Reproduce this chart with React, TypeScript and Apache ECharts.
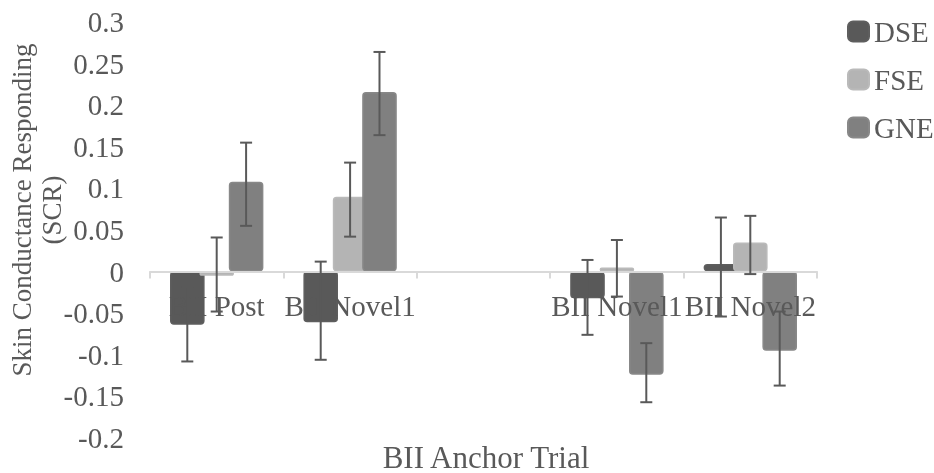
import React, { useEffect, useRef } from "react";
import * as echarts from "echarts";

const categories = ["BII Post", "BII Novel1", "", "BII Novel1", "BII Novel2"];
const seriesNames = ["DSE", "FSE", "GNE"];
const dseValues = [-0.064, -0.061, null, -0.032, 0.009];
const fseValues = [-0.005, 0.09, null, 0.005, 0.035];
const gneValues = [0.108, 0.216, null, -0.124, -0.095];
const dseErrHigh = [-0.0185, 0.012, null, 0.014, 0.065];
const dseErrLow = [-0.108, -0.106, null, -0.076, -0.054];
const fseErrHigh = [0.041, 0.131, null, 0.038, 0.067];
const fseErrLow = [-0.048, 0.042, null, -0.03, -0.003];
const gneErrHigh = [0.155, 0.264, null, -0.086, -0.048];
const gneErrLow = [0.055, 0.164, null, -0.157, -0.137];
const yTicks = [-0.2, 0.3, 0.05];

const FONT = "'Liberation Serif', 'Times New Roman', serif";
const TEXT = "#595959";
const colors = ["#595959", "#b4b4b4", "#808080"];
const borders = ["#5e5e5e", "#bababa", "#888888"];

const CAT_GAP = 0.3;
const BAR_GAP = -0.15;

const GRID_TOP = 22;
const GRID_BOTTOM = 35;
const CHART_H = 473;

export default function App() {
  const ref = useRef<HTMLDivElement>(null);
  useEffect(() => {
    const chart = echarts.init(ref.current!, undefined, { renderer: "svg" });
    const values = [dseValues, fseValues, gneValues];
    const highs = [dseErrHigh, fseErrHigh, gneErrHigh];
    const lows = [dseErrLow, fseErrLow, gneErrLow];

    // distance from the zero line to the grid bottom, so labels sit under the zero line
    const plotH = CHART_H - GRID_TOP - GRID_BOTTOM;
    const zeroToBottom = (plotH * (0 - yTicks[0])) / (yTicks[1] - yTicks[0]);

    const barSeries = seriesNames.map((name, i) => ({
      name,
      type: "bar",
      data: values[i].map((v) => (v === null ? "-" : v)),
      barGap: `${BAR_GAP * 100}%`,
      barCategoryGap: `${CAT_GAP * 100}%`,
      itemStyle: {
        color: colors[i],
        borderColor: borders[i],
        borderWidth: 1.5,
        borderRadius: 3,
      },
      z: 2,
    }));

    const errSeries = seriesNames.map((name, i) => ({
      name: name + " err",
      type: "custom",
      z: 5,
      silent: true,
      data: categories
        .map((_, k) => [k, lows[i][k], highs[i][k]])
        .filter((d) => d[1] !== null),
      encode: { x: 0, y: [1, 2] },
      renderItem: (params: any, api: any) => {
        const k = api.value(0);
        const lo = api.value(1);
        const hi = api.value(2);
        const band = api.size([1, 0])[0];
        const n = 3;
        const bw = (band * (1 - CAT_GAP)) / (n + (n - 1) * BAR_GAP);
        const step = bw * (1 + BAR_GAP);
        const cx = api.coord([k, 0])[0] + (i - 1) * step;
        const yTop = api.coord([k, hi])[1];
        const yBot = api.coord([k, lo])[1];
        const cap = 6;
        const style = { stroke: "#595959", lineWidth: 2 };
        return {
          type: "group",
          children: [
            { type: "line", shape: { x1: cx, y1: yTop, x2: cx, y2: yBot }, style },
            { type: "line", shape: { x1: cx - cap, y1: yTop, x2: cx + cap, y2: yTop }, style },
            { type: "line", shape: { x1: cx - cap, y1: yBot, x2: cx + cap, y2: yBot }, style },
          ],
        };
      },
    }));

    chart.setOption({
      animation: false,
      textStyle: { fontFamily: FONT },
      grid: { left: 150, right: 117, top: GRID_TOP, bottom: GRID_BOTTOM, containLabel: false },
      legend: {
        data: seriesNames,
        orient: "vertical",
        left: 847,
        top: 17,
        padding: 0,
        itemWidth: 21,
        itemHeight: 20,
        itemGap: 19,
        icon: "roundRect",
        textStyle: { fontFamily: FONT, fontSize: 29, color: TEXT },
      },
      xAxis: {
        type: "category",
        data: categories,
        z: 3,
        axisLine: { onZero: true, lineStyle: { color: "#d9d9d9", width: 2 } },
        axisTick: { show: true, length: 7, lineStyle: { color: "#d9d9d9", width: 2 } },
        axisLabel: {
          interval: 0,
          hideOverlap: false,
          margin: 20 - zeroToBottom,
          fontFamily: FONT,
          fontSize: 29,
          color: TEXT,
        },
        splitLine: { show: false },
      },
      yAxis: {
        type: "value",
        min: yTicks[0],
        max: yTicks[1],
        interval: yTicks[2],
        axisLine: { show: false },
        axisTick: { show: false },
        splitLine: { show: false },
        axisLabel: {
          margin: 26,
          fontFamily: FONT,
          fontSize: 29,
          color: TEXT,
          formatter: (v: number) => String(Math.round(v * 100) / 100),
        },
      },
      graphic: [
        {
          type: "text",
          x: 37,
          y: 210,
          rotation: Math.PI / 2,
          style: {
            text: "Skin Conductance Responding\n(SCR)",
            align: "center",
            verticalAlign: "middle",
            lineHeight: 30,
            font: `27px ${FONT}`,
            fill: TEXT,
          },
        },
        {
          type: "text",
          x: 486,
          y: 457,
          style: {
            text: "BII Anchor Trial",
            align: "center",
            verticalAlign: "middle",
            font: `31px ${FONT}`,
            fill: TEXT,
          },
        },
      ],
      series: [...barSeries, ...errSeries],
    });
    return () => chart.dispose();
  }, []);

  return (
    <div
      ref={ref}
      style={{ position: "fixed", left: 0, top: 0, width: 934, height: 473 }}
    />
  );
}
